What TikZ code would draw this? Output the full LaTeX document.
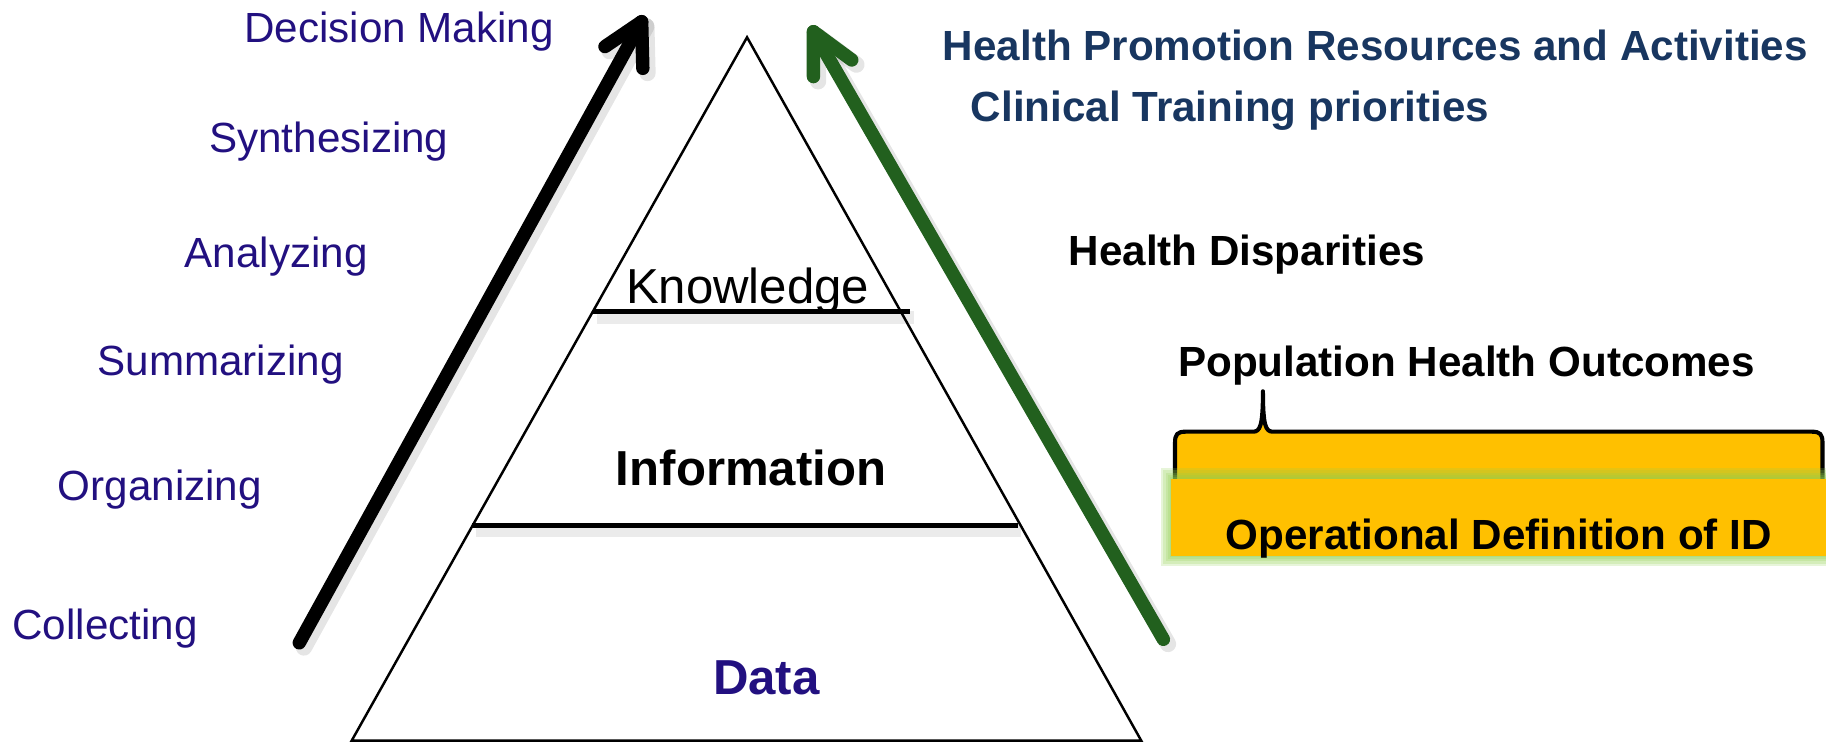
\documentclass[tikz,border=0pt]{standalone}
\usepackage{fontspec}
\setmainfont{Liberation Sans}
\usetikzlibrary{calc}
\definecolor{lblue}{RGB}{34,16,128}
\definecolor{navy}{RGB}{24,54,96}
\definecolor{agreen}{RGB}{34,96,30}
\definecolor{gold}{RGB}{255,192,0}
\definecolor{glow}{RGB}{146,208,80}
\begin{document}
\begin{tikzpicture}[x=0.01cm,y=-0.01cm,
  lbl/.style={anchor=base west, inner sep=0, text=lblue, font=\fontsize{10.3}{12}\selectfont},
  rlbl/.style={anchor=base west, inner sep=0, font=\bfseries\fontsize{10.3}{12}\selectfont},
  pyr/.style={anchor=base, inner sep=0, font=\fontsize{12}{14}\selectfont},
  bigarrow/.style={line width=0.115cm, line cap=round, line join=round},
  arrowshadow/.style={line width=0.14cm, line cap=round, line join=round, black, opacity=0.10},
  levelline/.style={line width=1.2pt},
  levelshadow/.style={line width=3pt, black, opacity=0.08},
]
\useasboundingbox (0,0) rectangle (1568,638.9);

% pyramid
\coordinate (apex) at (641.5,32);
\coordinate (bl) at (302,636);
\coordinate (br) at (980,636);
\draw[line width=0.6pt] (apex) -- (bl) -- (br) -- cycle;

\coordinate (k1) at (509.5,267.6);
\coordinate (k2) at (781.5,267.6);
\coordinate (i1) at (405.5,451);
\coordinate (i2) at (874,451);
\draw[levelshadow] ($(k1)+(3,5)$) -- ($(k2)+(3,5)$);
\draw[levelshadow] ($(i1)+(3,5)$) -- ($(i2)+(3,5)$);
\draw[levelline] (k1) -- (k2);
\draw[levelline] (i1) -- (i2);

\node[pyr] (know) at (642,260.5) {Knowledge};
\node[pyr, font=\bfseries\fontsize{12}{14}\selectfont] (info) at (645,417) {Information};
\node[pyr, font=\bfseries\fontsize{12}{14}\selectfont, text=lblue] (data) at (658,596) {Data};

% left labels
\node[lbl] (dm) at (209,36.3) {Decision Making};
\node[lbl] (syn) at (179,130.8) {Synthesizing};
\node[lbl] (ana) at (158,230) {Analyzing};
\node[lbl] (sum) at (83,322.5) {Summarizing};
\node[lbl] (org) at (49,429.6) {Organizing};
\node[lbl] (col) at (10,549) {Collecting};

% right labels
\node[rlbl, text=navy] (hp) at (809,52) {Health Promotion Resources and Activities};
\node[rlbl, text=navy] (ct) at (833,104.5) {Clinical Training priorities};
\node[rlbl] (hd) at (917,227.6) {Health Disparities};
\node[rlbl] (pho) at (1011,323.5) {Population Health Outcomes};

% brace
\path[fill=gold, draw=black, line width=1pt, line join=round]
  (1009,412) -- (1009,380) .. controls (1009,373) and (1011,370.7) .. (1018,370.7)
  -- (1076,370.7) .. controls (1082,370.7) and (1084.5,366) .. (1084.5,336)
  .. controls (1084.5,366) and (1087,370.7) .. (1093,370.7)
  -- (1556,370.7) .. controls (1563,370.7) and (1565,373) .. (1565,380) -- (1565,412);

% glowing box
\foreach \d in {9,7,5,3,1.5}
  \fill[glow, opacity=0.22] ({1006-\d},{411-\d}) rectangle ({1568+\d},{477+\d});
\node[fill=gold, inner sep=0, minimum width=5.62cm, minimum height=0.66cm] (box) at (1287,444) {};
\node[rlbl, anchor=base] (opdef) at (1287,472) {Operational Definition of ID};

% black arrow
\coordinate (btail) at (257,552);
\coordinate (btip) at (551,18.6);
\coordinate (barm1) at (519.5,40);
\coordinate (barm2) at (552,58.7);
\draw[arrowshadow] ($(btail)+(4,4)$) -- ($(btip)+(4,4)$);
\draw[arrowshadow] ($(barm1)+(4,4)$) -- ($(btip)+(4,4)$) -- ($(barm2)+(4,4)$);
\draw[bigarrow, black] (btail) -- (btip);
\draw[bigarrow, black] (barm1) -- (btip) -- (barm2);

% green arrow
\coordinate (gtail) at (999,549);
\coordinate (gtip) at (698.5,27.2);
\coordinate (garm1) at (731.4,51.5);
\coordinate (garm2) at (698.5,65.8);
\draw[arrowshadow] ($(gtail)+(4,4)$) -- ($(gtip)+(4,4)$);
\draw[arrowshadow] ($(garm1)+(4,4)$) -- ($(gtip)+(4,4)$) -- ($(garm2)+(4,4)$);
\draw[bigarrow, agreen] (gtail) -- (gtip);
\draw[bigarrow, agreen] (garm1) -- (gtip) -- (garm2);
\end{tikzpicture}
\end{document}
